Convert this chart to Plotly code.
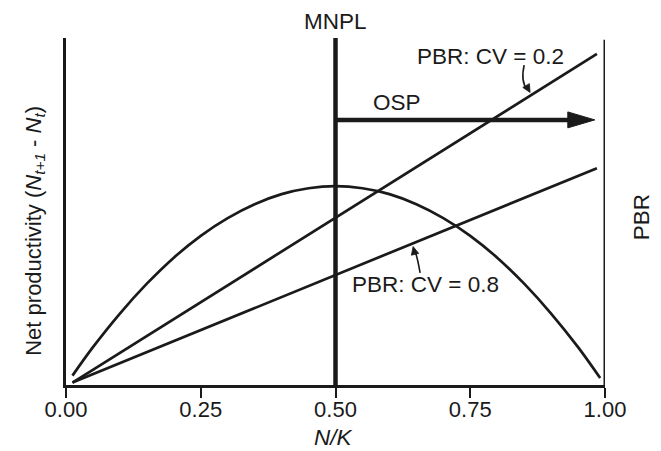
import math
import plotly.graph_objects as go

# ---- data ----
nk = [0.012, 0.05, 0.1, 0.15, 0.2, 0.25, 0.3, 0.35, 0.4, 0.45, 0.5,
      0.55, 0.6, 0.65, 0.7, 0.75, 0.8, 0.85, 0.9, 0.95, 0.991]
net_prod = [0.027, 0.109, 0.206, 0.292, 0.367, 0.430, 0.481, 0.521, 0.550, 0.567, 0.573,
            0.567, 0.550, 0.521, 0.481, 0.430, 0.367, 0.292, 0.206, 0.109, 0.020]
pbr_x = [0.012, 0.985]
pbr_cv02 = [0.007, 0.954]
pbr_cv08 = [0.007, 0.625]
mnpl_x = 0.5
osp_y = 0.764
osp_end = 0.981
osp_head_base = 0.931
osp_head_half = 0.023
tick_vals = [0.0, 0.25, 0.5, 0.75, 1.0]
tick_text = ["0.00", "0.25", "0.50", "0.75", "1.00"]

INK = "#1a1a1a"
FONT = "Liberation Sans, Arial, Helvetica, sans-serif"
FS = 22.5

W, H = 661, 451
ML, MR, MT, MB = 58, 64, 30, 74
PW, PH = W - ML - MR, H - MT - MB

fig = go.Figure()
fig.add_trace(go.Scatter(x=nk, y=net_prod, mode="lines",
                         line=dict(color=INK, width=2.7, shape="spline"), hoverinfo="skip"))
fig.add_trace(go.Scatter(x=pbr_x, y=pbr_cv02, mode="lines",
                         line=dict(color=INK, width=2.7), hoverinfo="skip"))
fig.add_trace(go.Scatter(x=pbr_x, y=pbr_cv08, mode="lines",
                         line=dict(color=INK, width=2.7), hoverinfo="skip"))
fig.add_trace(go.Scatter(x=[mnpl_x, mnpl_x], y=[0, 1], mode="lines",
                         line=dict(color=INK, width=4.5), hoverinfo="skip"))


def head(tip_x, tip_y, dx_px, dy_px, length=8, half=3.8):
    """small filled arrowhead at (tip_x, tip_y) pointing along pixel direction (dx, dy)"""
    n = math.hypot(dx_px, dy_px)
    ux, uy = dx_px / n, dy_px / n
    bx, by = -ux * length, -uy * length
    px, py = -uy * half, ux * half
    pts = [(0, 0), (bx + px, by + py), (bx - px, by - py)]
    coords = [(tip_x + a / PW, tip_y - b / PH) for a, b in pts]
    path = "M " + " L ".join(f"{x:.4f},{y:.4f}" for x, y in coords) + " Z"
    return dict(type="path", xref="x", yref="y", path=path,
                fillcolor=INK, line=dict(color=INK, width=0.8))


shapes = [
    # right-hand PBR axis
    dict(type="line", xref="x", yref="y", x0=1, x1=1, y0=0, y1=0.995,
         line=dict(color=INK, width=3)),
    # OSP arrow shaft and head
    dict(type="line", xref="x", yref="y", x0=mnpl_x, x1=osp_head_base + 0.005,
         y0=osp_y, y1=osp_y, line=dict(color=INK, width=4.5)),
    dict(type="path", xref="x", yref="y",
         path=f"M {osp_head_base},{osp_y - osp_head_half} L {osp_end},{osp_y} "
              f"L {osp_head_base},{osp_y + osp_head_half} Z",
         fillcolor=INK, line=dict(color=INK, width=1)),
    # curved pointer for CV = 0.2
    dict(type="path", xref="x", yref="y",
         path="M 0.850,0.922 Q 0.843,0.873 0.856,0.852",
         line=dict(color=INK, width=1.6)),
    head(0.861, 0.843, 4, 7),
    # curved pointer for CV = 0.8
    dict(type="path", xref="x", yref="y",
         path="M 0.657,0.323 Q 0.652,0.368 0.647,0.388",
         line=dict(color=INK, width=1.6)),
    head(0.644, 0.399, -2, -8),
]

ann = []
def txt(s, x, y, angle=0, size=FS):
    ann.append(dict(text=s, x=x, y=y, xref="paper", yref="paper", showarrow=False,
                    xanchor="center", yanchor="middle", textangle=angle, borderpad=0,
                    font=dict(family=FONT, size=size, color=INK)))

txt("MNPL", 0.5, 1.048)
txt("PBR: CV = 0.2", 0.787, 0.948)
txt("OSP", 0.614, 0.813)
txt("PBR: CV = 0.8", 0.667, 0.291)
txt("PBR", 1.067, 0.484, angle=-90)
txt("<i>N/K</i>", 0.497, -0.150)
txt("Net productivity (<i>N<sub>t+1</sub></i> - <i>N<sub>t</sub></i>)", -0.059, 0.445, angle=-90, size=22)

fig.update_layout(
    width=W, height=H,
    margin=dict(l=ML, r=MR, t=MT, b=MB),
    paper_bgcolor="white", plot_bgcolor="white",
    showlegend=False,
    shapes=shapes, annotations=ann,
    xaxis=dict(range=[0, 1], tickvals=tick_vals, ticktext=tick_text,
               showgrid=False, zeroline=False, showline=True, linecolor=INK, linewidth=2.5,
               ticks="outside", ticklen=10, tickwidth=2, tickcolor=INK,
               ticklabelstandoff=-7,
               tickfont=dict(family=FONT, size=22, color=INK), fixedrange=True),
    yaxis=dict(range=[0, 1], showgrid=False, zeroline=False, showline=True,
               linecolor=INK, linewidth=3, showticklabels=False, ticks="", fixedrange=True),
)

fig.write_html("out.html")
